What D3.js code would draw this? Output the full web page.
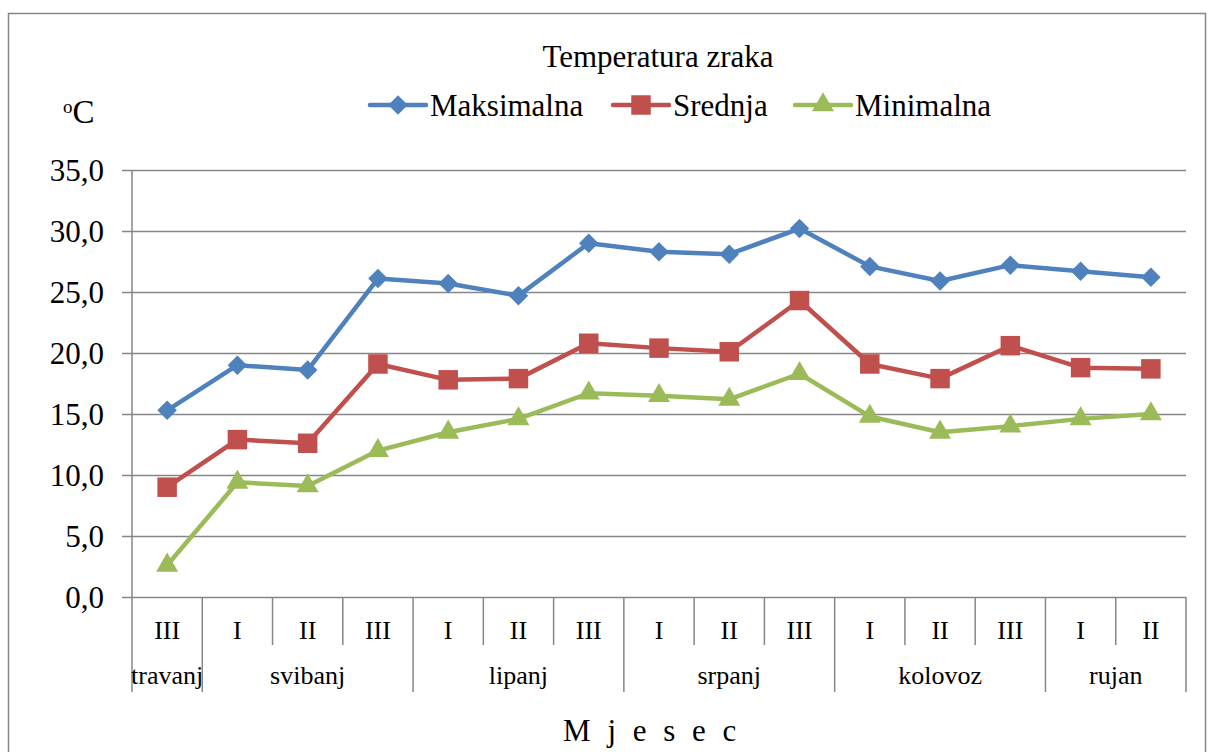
<!DOCTYPE html>
<html>
<head>
<meta charset="utf-8">
<script src="https://cdn.jsdelivr.net/npm/d3@7/dist/d3.min.js"></script>
<style>
  html, body { margin: 0; padding: 0; background: #fff; }
  svg { display: block; }
  text { font-family: "Liberation Serif", "Times New Roman", serif; fill: #000; }
</style>
</head>
<body>
<svg id="chart" width="1208" height="752"></svg>
<script>
// ---- data ----
const periods = ["III","I","II","III","I","II","III","I","II","III","I","II","III","I","II"];
const monthNames = ["travanj","svibanj","lipanj","srpanj","kolovoz","rujan"];
const monthCounts = [1,3,3,3,3,2];
const maksimalna = [15.3,19.0,18.6,26.1,25.7,24.7,29.0,28.3,28.1,30.2,27.1,25.9,27.2,26.7,26.2];
const srednja    = [9.0,12.9,12.6,19.1,17.8,17.9,20.8,20.4,20.1,24.3,19.1,17.9,20.6,18.8,18.7];
const minimalna  = [2.6,9.4,9.1,12.0,13.5,14.6,16.7,16.5,16.2,18.3,14.8,13.5,14.0,14.6,15.0];
const yTicks = [0,5,10,15,20,25,30,35];
const seriesNames = ["Maksimalna","Srednja","Minimalna"];

const series = [
  {name: seriesNames[0], values: maksimalna, color: "#4F81BD", symbol: "diamond"},
  {name: seriesNames[1], values: srednja,    color: "#C0504D", symbol: "square"},
  {name: seriesNames[2], values: minimalna,  color: "#9BBB59", symbol: "triangle"}
];

const svg = d3.select("#chart");
const grid = "#868686";
const L = 132, R = 1186, T = 170, B = 597;

// outer border
svg.append("rect").attr("x", 8.5).attr("y", 13.5).attr("width", 1197).attr("height", 760)
  .attr("fill", "none").attr("stroke", grid).attr("stroke-width", 1.5);

const idx = d3.range(periods.length);
const x = d3.scaleBand().domain(idx).range([L, R]).padding(0);
const y = d3.scaleLinear().domain([0, 35]).range([B, T]);

// gridlines + y ticks
const yAxis = d3.axisLeft(y).tickValues(yTicks).tickSize(10)
  .tickFormat(d => d3.format(".1f")(d).replace(".", ","));
const gy = svg.append("g").attr("transform", `translate(${L},0)`).call(yAxis);
gy.select(".domain").remove();
gy.selectAll(".tick line").attr("stroke", grid).attr("stroke-width", 1.5);
gy.selectAll(".tick text").attr("x", -28).attr("dy", "0.34em")
  .style("font-family", "Liberation Serif").style("font-size", "31px").attr("fill", "#000");
gy.selectAll(".tick").append("line").attr("x1", 0).attr("x2", R - L)
  .attr("stroke", grid).attr("stroke-width", 1.5);

// y axis line
svg.append("line").attr("x1", L).attr("x2", L).attr("y1", T).attr("y2", 692)
  .attr("stroke", grid).attr("stroke-width", 1.5);

// category dividers
const monthStarts = [];
let acc = 0;
monthCounts.forEach(c => { monthStarts.push(acc); acc += c; });
const boundaries = d3.range(periods.length + 1);
boundaries.forEach(i => {
  const xx = i < periods.length ? x(i) : x(periods.length - 1) + x.bandwidth();
  const isMonth = i === periods.length || monthStarts.includes(i);
  if (i === 0) return;
  svg.append("line").attr("x1", xx).attr("x2", xx).attr("y1", B).attr("y2", isMonth ? 692 : 645)
    .attr("stroke", grid).attr("stroke-width", 1.5);
});

// period labels
svg.append("g").selectAll("text").data(periods).join("text")
  .attr("x", (d, i) => x(i) + x.bandwidth() / 2).attr("y", 639)
  .attr("text-anchor", "middle").style("font-size", "26px").text(d => d);

// month labels
svg.append("g").selectAll("text").data(monthNames).join("text")
  .attr("x", (d, i) => {
    const s = monthStarts[i], e = s + monthCounts[i] - 1;
    return (x(s) + x(e) + x.bandwidth()) / 2;
  })
  .attr("y", 684).attr("text-anchor", "middle").style("font-size", "26px").text(d => d);

// axis title
svg.append("text").attr("x", 652).attr("y", 741).attr("text-anchor", "middle")
  .style("font-size", "31px").style("letter-spacing", "4.5px").text("M j e s e c");

// unit label
const unit = svg.append("text").attr("x", 63).attr("y", 123).style("font-size", "33px");
unit.append("tspan").attr("dy", -10).style("font-size", "19px").text("o");
unit.append("tspan").attr("dy", 10).text("C");

// title
svg.append("text").attr("x", 658).attr("y", 67).attr("text-anchor", "middle")
  .style("font-size", "31px").text("Temperatura zraka");

// markers
function marker(sym) {
  if (sym === "diamond") return {d: d3.symbol().type(d3.symbolSquare).size(190)(), rot: 45};
  if (sym === "square") return {d: d3.symbol().type(d3.symbolSquare).size(380)(), rot: 0};
  return {d: d3.symbol().type(d3.symbolTriangle).size(210)(), rot: 0};
}
const line = d3.line().x((d, i) => x(i) + x.bandwidth() / 2).y(d => y(d));

series.forEach(s => {
  const m = marker(s.symbol);
  svg.append("path").datum(s.values).attr("d", line).attr("fill", "none")
    .attr("stroke", s.color).attr("stroke-width", 4.5).attr("stroke-linejoin", "round")
    .attr("stroke-linecap", "round");
  svg.append("g").selectAll("path").data(s.values).join("path")
    .attr("transform", (d, i) => `translate(${x(i) + x.bandwidth() / 2},${y(d)}) rotate(${m.rot})`)
    .attr("d", m.d)
    .attr("fill", s.color);
});

// legend
const legendX = [370, 613, 795];
const lg = svg.append("g");
series.forEach((s, i) => {
  const m = marker(s.symbol);
  const g = lg.append("g").attr("transform", `translate(${legendX[i]},105)`);
  g.append("line").attr("x1", 0).attr("x2", 56).attr("stroke", s.color)
    .attr("stroke-width", 4.5).attr("stroke-linecap", "round");
  g.append("path").attr("transform", `translate(28,0) rotate(${m.rot})`)
    .attr("d", m.d)
    .attr("fill", s.color);
  g.append("text").attr("x", 60).attr("y", 11).style("font-size", "31px").text(s.name);
});
</script>
</body>
</html>
